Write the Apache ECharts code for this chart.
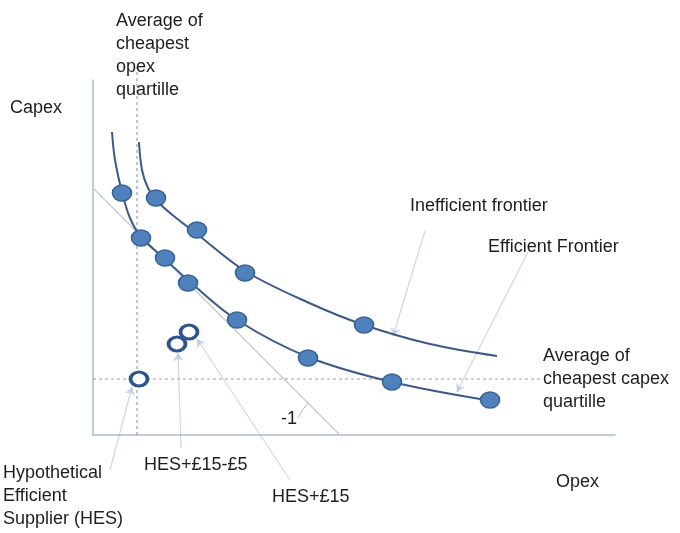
<!DOCTYPE html>
<html>
<head>
<meta charset="utf-8">
<script src="https://cdn.jsdelivr.net/npm/echarts@6/dist/echarts.min.js"></script>
<style>
html,body{margin:0;padding:0;background:#fff;}
#c{width:680px;height:533px;}
</style>
</head>
<body>
<div id="c"></div>
<script>
// Conceptual units (opex on x, capex on y)
var efficientDots = [[29,242],[48,197],[72,177],[95,152],[144,115],[215,77],[299,53],[397,35]];
var inefficientDots = [[63,237],[104,205],[152,162],[271,110]];
var efficientCurve = [[19,303],[22,275],[29,243],[37,217],[48,198],[72,176],[96,154],[144,115],[215,78],[299,53],[399,34]];
var inefficientCurve = [[46,293],[49,265],[55,247],[65,233],[82,218],[104,201],[152,164],[214,133],[271,110],[337,91],[404,79]];
var hesPoints = [[46,56],[84,91],[96,103]];
var tangentLine = [[0,247],[246,1]];
var opexQuartile = [[44,0],[44,368]];
var capexQuartile = [[0,56],[450,56]];
var slopeArc = [[205,17],[209,24],[215,32]];
var arrows = [
  [[17,-35],[39,48]],
  [[88,-13],[85,82]],
  [[197,-45],[104,96]],
  [[332,204],[300,99]],
  [[435,183],[364,43]]
];
var labels = [
  {text:'Capex', x:10, y:108, va:'middle'},
  {text:'Average of\ncheapest\nopex\nquartille', x:116, y:9.5, va:'top'},
  {text:'Inefficient frontier', x:410, y:206, va:'middle'},
  {text:'Efficient Frontier', x:488, y:247, va:'middle'},
  {text:'Average of\ncheapest capex\nquartille', x:543, y:345, va:'top'},
  {text:'-1', x:281, y:419, va:'middle'},
  {text:'Hypothetical\nEfficient\nSupplier (HES)', x:3, y:462, va:'top'},
  {text:'HES+£15-£5', x:144, y:465, va:'middle'},
  {text:'HES+£15', x:272, y:497, va:'middle'},
  {text:'Opex', x:556, y:482, va:'middle'}
];

var FONT = '"Liberation Sans", Arial, sans-serif';
var chart = echarts.init(document.getElementById('c'));
var axisCol = '#a9bcd3';
chart.setOption({
  animation:false,
  backgroundColor:'#fff',
  grid:{left:93, top:80, width:522, height:355},
  xAxis:{type:'value', min:0, max:522, axisLine:{show:true, lineStyle:{color:axisCol, width:1.5}},
    axisTick:{show:false}, axisLabel:{show:false}, splitLine:{show:false}},
  yAxis:{type:'value', min:0, max:355, axisLine:{show:true, lineStyle:{color:axisCol, width:1.5}},
    axisTick:{show:false}, axisLabel:{show:false}, splitLine:{show:false}},
  graphic: labels.map(function(l){
    return {type:'text', x:l.x, y:l.y, z:100,
      style:{text:l.text, font:'18px '+FONT, fill:'#1e1e1e', verticalAlign:l.va, lineHeight:23}};
  }),
  series:[
    {type:'line', data:tangentLine, symbol:'none', silent:true, z:1,
      lineStyle:{color:'#c6cdd6', width:1.5}},
    {type:'line', data:opexQuartile, symbol:'none', clip:false, silent:true, z:1,
      lineStyle:{color:'#8090a4', width:1, type:[3,3]}},
    {type:'line', data:capexQuartile, symbol:'none', silent:true, z:1,
      lineStyle:{color:'#8ea0b6', width:1, type:[3,3]}},
    {type:'line', data:slopeArc, symbol:'none', smooth:true, silent:true, z:1,
      lineStyle:{color:'#a8b8cc', width:1}},
    {type:'lines', coordinateSystem:'cartesian2d', clip:false, silent:true, z:2,
      symbol:['none','arrow'], symbolSize:8,
      lineStyle:{color:'#9cb2cc', width:1.2, curveness:0},
      data: arrows.map(function(a){return {coords:a};})},
    {type:'line', data:efficientCurve, symbol:'none', smooth:0.35, silent:true, z:3,
      lineStyle:{color:'#3b5a88', width:2}},
    {type:'line', data:inefficientCurve, symbol:'none', smooth:0.35, silent:true, z:3,
      lineStyle:{color:'#3b5a88', width:2}},
    {type:'scatter', data:efficientDots.concat(inefficientDots), symbol:'circle', symbolSize:[19,16], z:5,
      itemStyle:{color:'#4f81bd', borderColor:'#3a6396', borderWidth:1.5, opacity:1}},
    {type:'scatter', data:hesPoints, symbol:'circle', symbolSize:[17,14], z:6,
      itemStyle:{color:'#ffffff', borderColor:'#2d5590', borderWidth:3.5, opacity:1}}
  ]
});
</script>
</body>
</html>
